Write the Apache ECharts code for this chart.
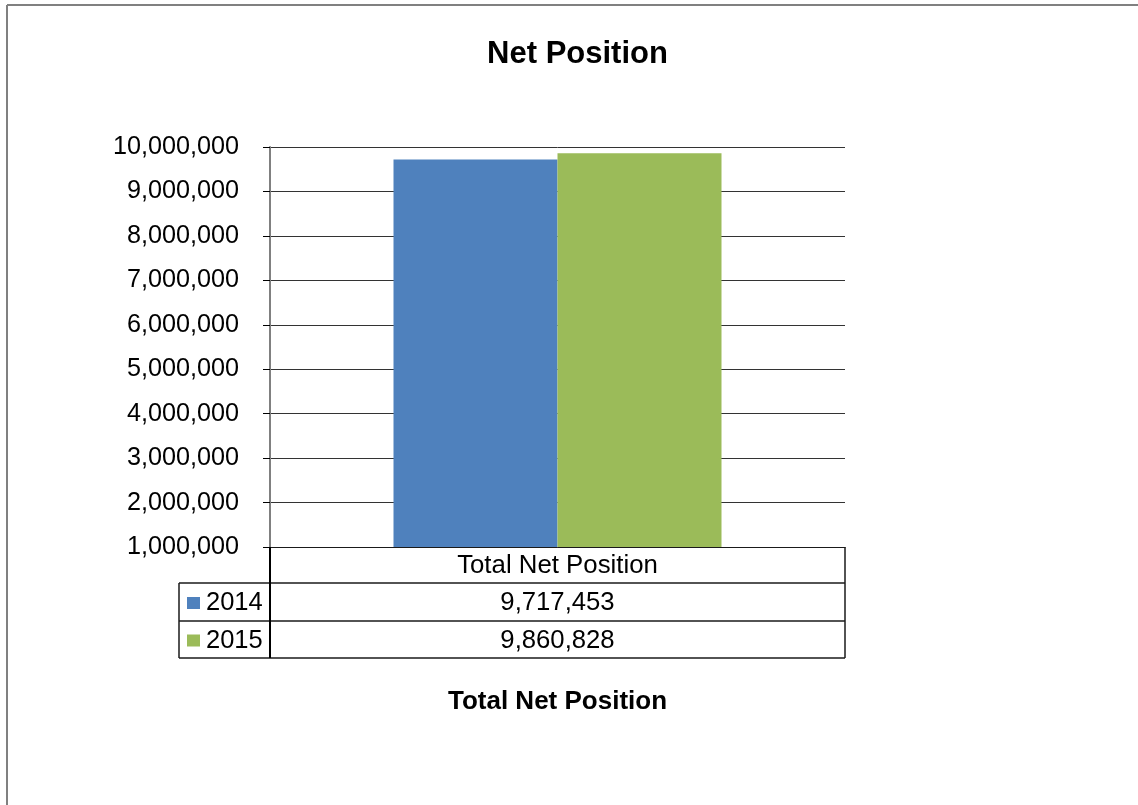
<!DOCTYPE html>
<html>
<head>
<meta charset="utf-8">
<style>
  html, body { margin: 0; padding: 0; background: #ffffff; }
  #chart { width: 1138px; height: 805px; }
</style>
<script src="https://cdn.jsdelivr.net/npm/echarts@6/dist/echarts.min.js"></script>
</head>
<body>
<div id="chart"></div>
<script>
// ---- data ----
const categories = ['Total Net Position'];
const seriesNames = ['2014', '2015'];
const values2014 = [9717453];
const values2015 = [9860828];
const yMin = 1000000;
const yMax = 10000000;
const yInterval = 1000000;
const chartTitle = 'Net Position';
const axisTitle = 'Total Net Position';

// ---- layout ----
const FONT = "'Liberation Sans', Arial, sans-serif";
const W = 1138, H = 805;
const gridLeft = 270, gridRight = 845, gridTop = 147, gridBottom = 547;
const row1Top = 583;
const row2Top = 621;
const tableBottom = 658;
const legendLeft = 179;
const colors = ['#4F81BD', '#9BBB59'];
const fmt = v => v.toLocaleString('en-US');

const chart = echarts.init(document.getElementById('chart'), null, { renderer: 'canvas' });

const allSeries = [values2014, values2015];
const rowTops = [row1Top, row2Top];
const rowBottoms = [row2Top, tableBottom];

const graphics = [];
// outer chart border (top + left)
graphics.push({ type: 'line', shape: { x1: 7, y1: 5, x2: W, y2: 5 }, style: { stroke: '#808080', lineWidth: 2 }, z: 10 });
graphics.push({ type: 'line', shape: { x1: 7, y1: 5, x2: 7, y2: H }, style: { stroke: '#808080', lineWidth: 2 }, z: 10 });
// data table lines
[row1Top, row2Top, tableBottom].forEach(y => {
  graphics.push({ type: 'line', shape: { x1: legendLeft, y1: y, x2: gridRight, y2: y }, style: { stroke: '#1a1a1a', lineWidth: 1.5 }, z: 10 });
});
graphics.push({ type: 'line', shape: { x1: gridRight, y1: gridBottom, x2: gridRight, y2: tableBottom }, style: { stroke: '#1a1a1a', lineWidth: 1.5 }, z: 10 });
graphics.push({ type: 'line', shape: { x1: legendLeft, y1: row1Top, x2: legendLeft, y2: tableBottom }, style: { stroke: '#1a1a1a', lineWidth: 1.5 }, z: 10 });
graphics.push({ type: 'line', shape: { x1: gridLeft, y1: gridBottom, x2: gridLeft, y2: tableBottom }, style: { stroke: '#000', lineWidth: 2 }, z: 10 });
// rows
seriesNames.forEach((name, i) => {
  const cy = (rowTops[i] + rowBottoms[i]) / 2 + 1;
  graphics.push({ type: 'rect', shape: { x: 187, y: cy - 6, width: 13, height: 12 }, style: { fill: colors[i] }, z: 10 });
  graphics.push({ type: 'text', x: 206, y: cy, style: { text: name, font: '25.5px ' + FONT, fill: '#000', textAlign: 'left', textVerticalAlign: 'middle' }, z: 10 });
  graphics.push({ type: 'text', x: (gridLeft + gridRight) / 2, y: cy, style: { text: fmt(allSeries[i][0]), font: '25.7px ' + FONT, fill: '#000', textAlign: 'center', textVerticalAlign: 'middle' }, z: 10 });
});
// axis title
graphics.push({ type: 'text', x: (gridLeft + gridRight) / 2, y: 702, style: { text: axisTitle, font: 'bold 26px ' + FONT, fill: '#000', textAlign: 'center', textVerticalAlign: 'middle' }, z: 10 });
// chart title
graphics.push({ type: 'text', x: 577.5, y: 54, style: { text: chartTitle, font: 'bold 31px ' + FONT, fill: '#000', textAlign: 'center', textVerticalAlign: 'middle' }, z: 10 });

chart.setOption({
  animation: false,
  backgroundColor: '#ffffff',
  grid: { left: gridLeft, right: W - gridRight, top: gridTop, bottom: H - gridBottom, containLabel: false },
  xAxis: {
    type: 'category',
    data: categories,
    axisLine: { show: true, lineStyle: { color: '#1a1a1a', width: 1 } },
    axisTick: { show: false },
    axisLabel: { show: true, margin: 19, verticalAlign: 'middle', fontFamily: FONT, fontSize: 25.8, color: '#000' }
  },
  yAxis: {
    type: 'value',
    min: yMin, max: yMax, interval: yInterval,
    axisLine: { show: true, lineStyle: { color: '#808080', width: 2 } },
    axisTick: { show: true, length: 7, inside: false, lineStyle: { color: '#000', width: 1 } },
    splitLine: { show: true, lineStyle: { color: '#333', width: 1 } },
    axisLabel: { margin: 31, fontFamily: FONT, fontSize: 25.2, color: '#000', formatter: v => fmt(v) }
  },
  series: seriesNames.map((name, i) => ({
    name: name,
    type: 'bar',
    data: allSeries[i],
    barWidth: 164,
    barGap: '0%',
    itemStyle: { color: colors[i] },
    clip: true
  })),
  graphic: graphics
});
</script>
</body>
</html>
